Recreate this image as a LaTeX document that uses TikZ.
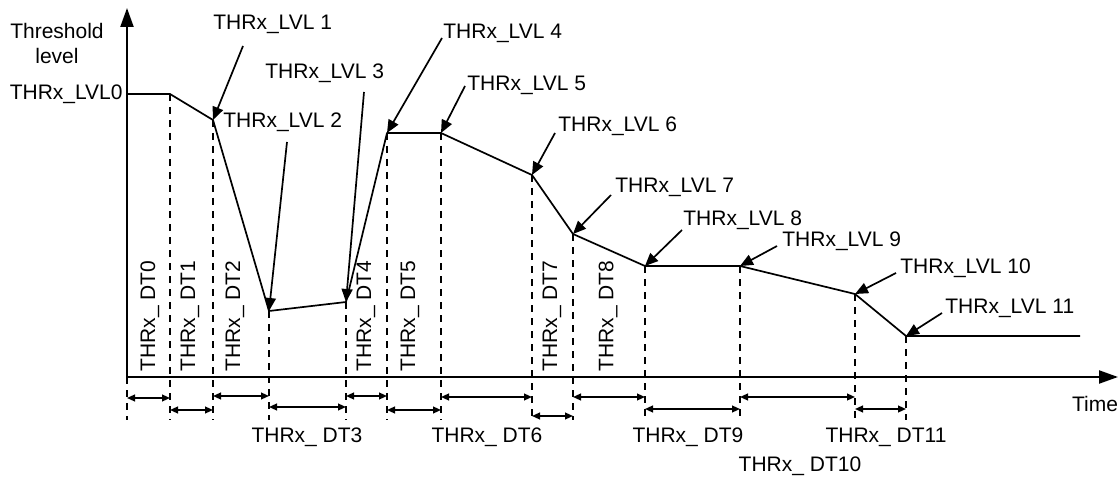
\documentclass[tikz,border=0pt]{standalone}
\usepackage{fontspec}
\setmainfont{Liberation Sans}
\usepackage{tikz}
\usetikzlibrary{arrows.meta, positioning, calc}

\tikzset{
  axisline/.style={line width=1.1pt, -{Triangle[length=9.5pt, width=6.5pt]}},
  levelline/.style={line width=0.85pt, line join=round},
  guide/.style={line width=0.6pt, dash pattern=on 3.5pt off 3pt},
  callout/.style={line width=0.85pt, -{Triangle[length=6.5pt, width=5.5pt]}},
  span/.style={line width=0.85pt, {Triangle[length=4pt, width=3.4pt]}-{Triangle[length=4pt, width=3.4pt]}},
  lbl/.style={inner sep=0pt, font=\fontsize{10.5}{12}\selectfont},
  dtlbl/.style={lbl, rotate=90, anchor=west},
}

\begin{document}
\begin{tikzpicture}[x=0.5pt, y=-0.5pt]
  \useasboundingbox (0,0) rectangle (1120,481);

  % level points
  \coordinate (o) at (127,377);
  \coordinate (p0) at (127,94);
  \coordinate (p1) at (170,94);
  \coordinate (p2) at (213,120);
  \coordinate (p3) at (269,311);
  \coordinate (p4) at (346,302);
  \coordinate (p5) at (387,133);
  \coordinate (p6) at (441,133);
  \coordinate (p7) at (532,175);
  \coordinate (p8) at (573,234);
  \coordinate (p9) at (645,266);
  \coordinate (p10) at (740,266);
  \coordinate (p11) at (855,294);
  \coordinate (p12) at (906,336);
  \coordinate (pend) at (1080,336);
  \coordinate (ytip) at (127,8);
  \coordinate (xtip) at (1118,377);

  % guides
  \draw[guide] (o) -- (127,420);
  \foreach \i in {1,...,12}
    \draw[guide] (p\i) -- (p\i |- 0,420);

  \draw[axisline] (o) -- (ytip);
  \draw[axisline] (o) -- (xtip);

  \draw[levelline] (p0) -- (p1) -- (p2) -- (p3) -- (p4) -- (p5) -- (p6)
    -- (p7) -- (p8) -- (p9) -- (p10) -- (p11) -- (p12) -- (pend);

  % spans under the time axis
  \foreach \a/\b/\r in {127/170/398, 170/213/410, 213/269/396, 269/346/407,
      346/387/396, 387/441/410, 441/532/397, 532/573/416, 573/645/397,
      645/740/409, 740/855/397, 855/906/409}
    \draw[span] (\a,\r) -- (\b,\r);

  \node[lbl, align=center] (ylabel) at (57,43) {Threshold\\[0.5pt]level};
  \node[lbl, anchor=east] (lvl0) at (123,94) {THRx\_LVL0};
  \node[lbl] (time) at (1095,404) {Time};

  % level callouts
  \node[lbl, anchor=west] (lvl1) at (213,24) {THRx\_LVL 1};
  \node[lbl, anchor=west] (lvl2) at (223,122) {THRx\_LVL 2};
  \node[lbl, anchor=west] (lvl3) at (265,73) {THRx\_LVL 3};
  \node[lbl, anchor=west] (lvl4) at (443,33) {THRx\_LVL 4};
  \node[lbl, anchor=west] (lvl5) at (467,85) {THRx\_LVL 5};
  \node[lbl, anchor=west] (lvl6) at (558,126) {THRx\_LVL 6};
  \node[lbl, anchor=west] (lvl7) at (615,187) {THRx\_LVL 7};
  \node[lbl, anchor=west] (lvl8) at (683,220) {THRx\_LVL 8};
  \node[lbl, anchor=west] (lvl9) at (782,241) {THRx\_LVL 9};
  \node[lbl, anchor=west] (lvl10) at (900,268) {THRx\_LVL 10};
  \node[lbl, anchor=west] (lvl11) at (945,308) {THRx\_LVL 11};

  \coordinate (t1) at (243,46);
  \coordinate (t2) at (287,142);
  \coordinate (t3) at (364,92);
  \coordinate (t4) at (442,38);
  \coordinate (t5) at (465,86);
  \coordinate (t6) at (555,133);
  \coordinate (t7) at (611,195);
  \coordinate (t8) at (682,230);
  \coordinate (t9) at (777,246);
  \coordinate (t10) at (896,273);
  \coordinate (t11) at (942,313);
  \draw[callout] (t1) -- (p2);
  \draw[callout] (t2) -- (p3);
  \draw[callout] (t3) -- (p4);
  \draw[callout] (t4) -- (p5);
  \draw[callout] (t5) -- (p6);
  \draw[callout] (t6) -- (p7);
  \draw[callout] (t7) -- (p8);
  \draw[callout] (t8) -- (p9);
  \draw[callout] (t9) -- (p10);
  \draw[callout] (t10) -- (p11);
  \draw[callout] (t11) -- (p12);

  % interval labels
  \node[dtlbl] (dt0) at (150,372) {THRx\_ DT0};
  \node[dtlbl] (dt1) at (190,372) {THRx\_ DT1};
  \node[dtlbl] (dt2) at (235,372) {THRx\_ DT2};
  \node[dtlbl] (dt4) at (366,372) {THRx\_ DT4};
  \node[dtlbl] (dt5) at (410,372) {THRx\_ DT5};
  \node[dtlbl] (dt7) at (552,372) {THRx\_ DT7};
  \node[dtlbl] (dt8) at (608,372) {THRx\_ DT8};
  \node[lbl] (dt3) at (307,437) {THRx\_ DT3};
  \node[lbl] (dt6) at (487,437) {THRx\_ DT6};
  \node[lbl] (dt9) at (688,437) {THRx\_ DT9};
  \node[lbl] (dt10) at (800,466) {THRx\_ DT10};
  \node[lbl] (dt11) at (886,437) {THRx\_ DT11};
\end{tikzpicture}
\end{document}
